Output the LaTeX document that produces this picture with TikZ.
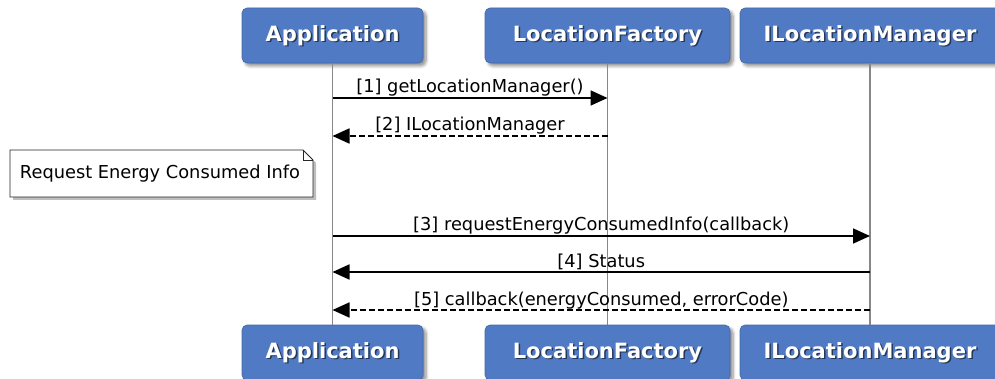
\documentclass[tikz,border=0pt]{standalone}
\usepackage{fontspec}
\setmainfont{DejaVu Sans}
\usetikzlibrary{arrows.meta,shadows,shadows.blur}
\definecolor{partblue}{RGB}{80,122,196}
\definecolor{lifegrey}{RGB}{135,135,135}
\definecolor{shadowgrey}{RGB}{110,110,110}
\tikzset{
  partbox/.style={fill=partblue, draw=partblue!85!black, line width=0.6pt, rounded corners=5pt, inner sep=0pt,
    minimum height=55pt, blur shadow={shadow xshift=3pt, shadow yshift=-3pt, shadow blur steps=6, shadow blur radius=3pt, shadow opacity=45}},
  parttext/.style={text=white, font=\bfseries\fontsize{21}{25}\selectfont, inner sep=0pt},
  partshade/.style={text=black, opacity=0.55, font=\bfseries\fontsize{21}{25}\selectfont, inner sep=0pt},
  life/.style={draw=lifegrey, line width=1.6pt},
  msg/.style={draw=black, line width=1.8pt, -{Triangle[length=17pt,width=15pt]}},
  reply/.style={msg, dash pattern=on 6pt off 3pt},
  lbl/.style={font=\fontsize{17.8}{21}\selectfont, anchor=base, inner sep=0pt, yshift=5pt},
  notetext/.style={font=\fontsize{17.8}{21}\selectfont, inner sep=0pt}
}
\begin{document}
\begin{tikzpicture}[x=1pt,y=-1pt]
\useasboundingbox (0,0) rectangle (995,379);
% participant boxes (top)
\node[partbox, minimum width=181pt] (appTop) at (332.5,35.5) {};
\node[partbox, minimum width=245pt] (lfTop) at (607.5,35.5) {};
\node[partbox, minimum width=260pt] (ilmTop) at (870,35.5) {};
% participant boxes (bottom)
\node[partbox, minimum width=181pt] (appBot) at (332.5,352.5) {};
\node[partbox, minimum width=245pt] (lfBot) at (607.5,352.5) {};
\node[partbox, minimum width=260pt] (ilmBot) at (870,352.5) {};
% labels with text shadow
\foreach \nm/\txt in {appTop/Application, lfTop/LocationFactory, ilmTop/ILocationManager,
                      appBot/Application, lfBot/LocationFactory, ilmBot/ILocationManager}{
  \node[partshade] (\nm S) at ([xshift=1.5pt,yshift=-1.5pt]\nm.center) {\txt};
  \node[parttext] (\nm T) at (\nm.center) {\txt};
}
% lifelines
\draw[life] (appTop.south) -- (appBot.north);
\draw[life] (lfTop.south) -- (lfBot.north);
\draw[life] (ilmTop.south) -- (ilmBot.north);
% message anchor points on lifelines
\coordinate (a1) at (332.5,98);  \coordinate (f1) at (607.5,98);
\coordinate (a2) at (332.5,136); \coordinate (f2) at (607.5,136);
\coordinate (a3) at (332.5,236); \coordinate (i3) at (870,236);
\coordinate (a4) at (332.5,272); \coordinate (i4) at (870,272);
\coordinate (a5) at (332.5,310); \coordinate (i5) at (870,310);
% messages
\draw[msg] (a1) -- node[lbl] (l1) {[1] getLocationManager()} (f1);
\draw[reply] (f2) -- node[lbl] (l2) {[2] ILocationManager} (a2);
\draw[msg] (a3) -- node[lbl] (l3) {[3] requestEnergyConsumedInfo(callback)} (i3);
\draw[msg] (i4) -- node[lbl] (l4) {[4] Status} (a4);
\draw[reply] (i5) -- node[lbl] (l5) {[5] callback(energyConsumed, errorCode)} (a5);
% note
\fill[shadowgrey, opacity=0.45] (13,153) -- (306,153) -- (316,163) -- (316,200) -- (13,200) -- cycle;
\draw[fill=white, draw=black!85, line width=0.9pt] (10,150) -- (303,150) -- (313,160) -- (313,197) -- (10,197) -- cycle;
\draw[draw=black!85, line width=0.9pt] (303,150) -- (303,160) -- (313,160);
\node[notetext] (note) at (160,173.5) {Request Energy Consumed Info};
\end{tikzpicture}
\end{document}
